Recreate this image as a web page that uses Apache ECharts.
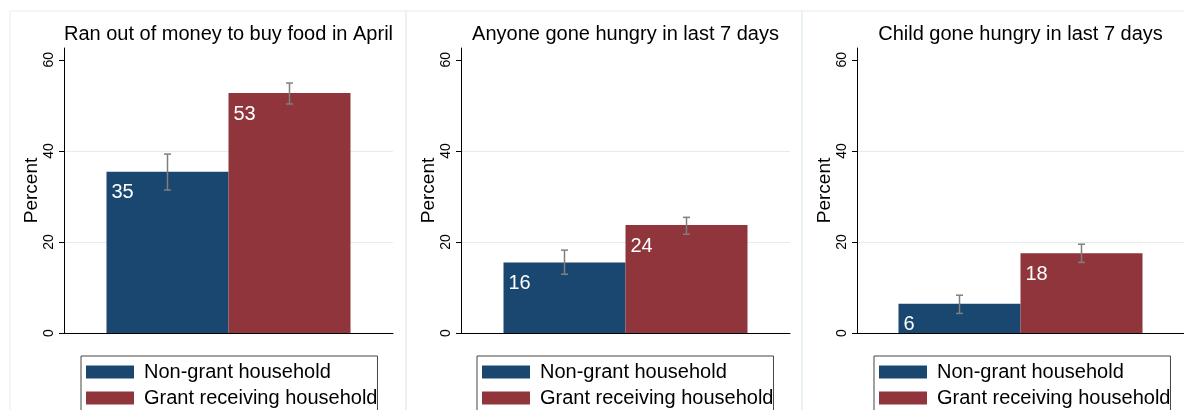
<!DOCTYPE html>
<html>
<head>
<meta charset="utf-8">
<script src="https://cdn.jsdelivr.net/npm/echarts@6/dist/echarts.min.js"></script>
<style>
  html, body { margin: 0; padding: 0; background: #fff; }
  #chart { width: 1184px; height: 410px; }
</style>
</head>
<body>
<div id="chart"></div>
<script>
var titles = ['Ran out of money to buy food in April', 'Anyone gone hungry in last 7 days', 'Child gone hungry in last 7 days'];
var groups = ['Non-grant household', 'Grant receiving household'];
var nonGrant = [35.4, 15.5, 6.4];
var grant = [52.7, 23.7, 17.5];
var nonGrantCI = [[31.4, 39.3], [12.9, 18.2], [4.3, 8.3]];
var grantCI = [[50.3, 54.9], [21.7, 25.4], [15.5, 19.5]];
var yTicks = [0, 20, 40, 60];

var colors = ['#1a476f', '#90353b'];
var font = '"Liberation Sans", Arial, Helvetica, sans-serif';
var barW = 122;

// panel geometry
var gridLeft = [64, 461, 857];
var gridWidth = [329, 329, 327];
var legendLeft = [81, 477, 874];

var chart = echarts.init(document.getElementById('chart'));

var option = {
    animation: false,
    backgroundColor: '#fff',
    textStyle: { fontFamily: font },
    color: colors,
    title: [],
    grid: [],
    xAxis: [],
    yAxis: [],
    legend: [],
    series: [],
    graphic: [
        { type: 'rect', shape: { x: 10, y: 11, width: 396, height: 420 }, style: { fill: 'none', stroke: '#e4eded', lineWidth: 1 }, silent: true },
        { type: 'rect', shape: { x: 406, y: 11, width: 396, height: 420 }, style: { fill: 'none', stroke: '#e4eded', lineWidth: 1 }, silent: true },
        { type: 'rect', shape: { x: 802, y: 11, width: 400, height: 420 }, style: { fill: 'none', stroke: '#e4eded', lineWidth: 1 }, silent: true }
    ]
};

function errorSeries(i, ci, side) {
    return {
        type: 'custom',
        xAxisIndex: i,
        yAxisIndex: i,
        silent: true,
        z: 5,
        data: [[0, ci[i][0], ci[i][1]]],
        renderItem: function (params, api) {
            var lo = api.coord([api.value(0), api.value(1)]);
            var hi = api.coord([api.value(0), api.value(2)]);
            var x = lo[0] + side * barW / 2;
            var st = { stroke: '#7f7f7f', lineWidth: 1.5 };
            return {
                type: 'group',
                children: [
                    { type: 'line', shape: { x1: x, y1: lo[1], x2: x, y2: hi[1] }, style: st },
                    { type: 'line', shape: { x1: x - 3.5, y1: lo[1], x2: x + 3.5, y2: lo[1] }, style: st },
                    { type: 'line', shape: { x1: x - 3.5, y1: hi[1], x2: x + 3.5, y2: hi[1] }, style: st }
                ]
            };
        }
    };
}

for (var i = 0; i < 3; i++) {
    option.title.push({
        text: titles[i],
        left: gridLeft[i] + gridWidth[i] / 2 - 5,
        top: 19,
        textAlign: 'center',
        textStyle: { fontFamily: font, fontSize: 20, fontWeight: 'normal', color: '#000' }
    });
    option.grid.push({ left: gridLeft[i], top: 48, width: gridWidth[i], height: 285 });
    option.xAxis.push({
        type: 'category',
        gridIndex: i,
        data: [''],
        axisLine: { lineStyle: { color: '#000', width: 1 } },
        axisTick: { show: false },
        axisLabel: { show: false },
        splitLine: { show: false }
    });
    option.yAxis.push({
        type: 'value',
        gridIndex: i,
        min: 0,
        max: 62.6,
        interval: 20,
        name: 'Percent',
        nameLocation: 'middle',
        nameGap: 21,
        nameTextStyle: { fontFamily: font, fontSize: 19, color: '#000' },
        axisLine: { show: true, lineStyle: { color: '#000', width: 1 } },
        axisTick: { show: true, length: 5, customValues: yTicks, lineStyle: { color: '#000' } },
        axisLabel: {
            rotate: 90, fontSize: 14, color: '#000', margin: 8, customValues: yTicks,
            formatter: function (v) { return v % 20 === 0 ? v : ''; }
        },
        splitLine: { show: true, showMinLine: false, showMaxLine: false, lineStyle: { color: '#e4eded', width: 1 } }
    });
    option.legend.push({
        data: groups,
        orient: 'vertical',
        left: legendLeft[i],
        top: 356,
        height: 120,
        itemWidth: 48,
        itemHeight: 13,
        itemGap: 6,
        padding: [6, 0, 40, 5],
        borderColor: '#444',
        borderWidth: 1,
        selectedMode: false,
        icon: 'rect',
        textStyle: { fontFamily: font, fontSize: 20, color: '#000', padding: [0, 0, 0, 5] }
    });
    var vals = [nonGrant, grant];
    for (var s = 0; s < 2; s++) {
        option.series.push({
            name: groups[s],
            type: 'bar',
            xAxisIndex: i,
            yAxisIndex: i,
            data: [vals[s][i]],
            barWidth: barW,
            barGap: '0%',
            itemStyle: { color: colors[s] },
            label: {
                show: true,
                position: [5, 11],
                color: '#fff',
                fontSize: 20,
                fontFamily: font,
                formatter: function (p) { return Math.round(p.value); }
            }
        });
    }
    option.series.push(errorSeries(i, nonGrantCI, -1));
    option.series.push(errorSeries(i, grantCI, 1));
}

chart.setOption(option);
</script>
</body>
</html>
